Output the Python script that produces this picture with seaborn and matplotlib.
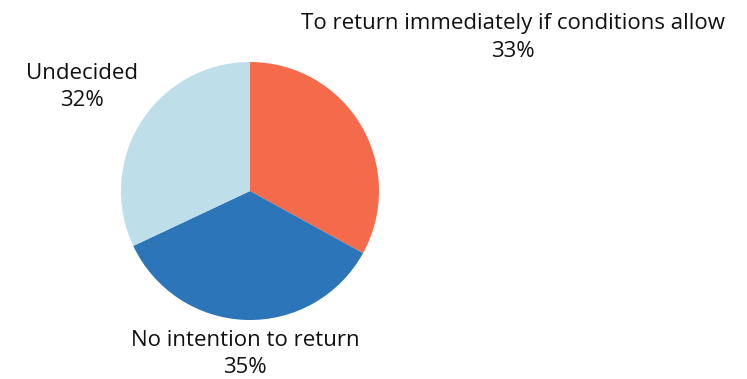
import numpy as np
import matplotlib
matplotlib.use('Agg')
import matplotlib.pyplot as plt
import seaborn as sns

# 데이터
labels = ['To return immediately if conditions allow', 'No intention to return', 'Undecided']
shares = [33, 35, 32]
colors = ['#F66A4C', '#2C75B9', '#BEDEEA']

# 라벨 위치 (반지름 배수, 각도 보정)
label_dist = [2.36, 1.265, 1.53]
label_shift = [-0.3, 0, 0.6]

sns.set_theme(style='white')
plt.rcParams['font.family'] = ['Open Sans', 'DejaVu Sans']

W, H = 747, 379
fig = plt.figure(figsize=(W / 100, H / 100), dpi=100)
cx, cy, r = 250, 191, 129
ax = fig.add_axes([(cx - r) / W, (H - cy - r) / H, 2 * r / W, 2 * r / H])

wedges, _ = ax.pie(shares, colors=colors, startangle=90, counterclock=False,
                   radius=1, wedgeprops=dict(linewidth=0))
ax.set_xlim(-1, 1)
ax.set_ylim(-1, 1)
ax.set_aspect('equal')
ax.axis('off')

for w, lab, s, d, sh in zip(wedges, labels, shares, label_dist, label_shift):
    ang = np.deg2rad((w.theta1 + w.theta2) / 2 + sh)
    ax.text(d * np.cos(ang), d * np.sin(ang), f'{lab}\n{s}%',
            ha='center', va='center', fontsize=16, color='#111111',
            linespacing=1.4, clip_on=False)

fig.savefig('out.png', dpi=100)
